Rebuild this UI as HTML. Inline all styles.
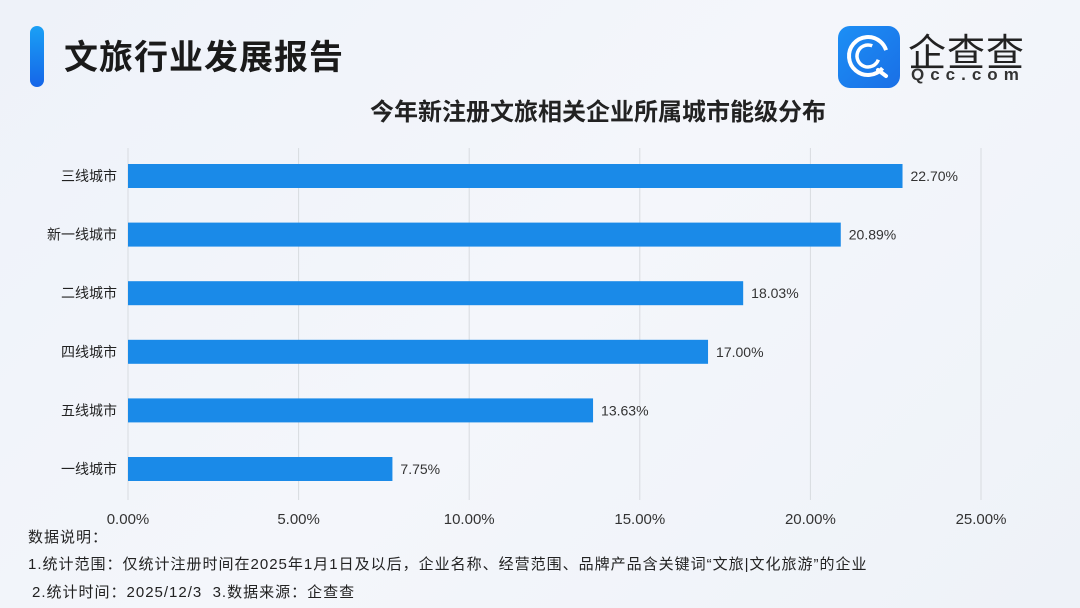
<!DOCTYPE html>
<html><head><meta charset="utf-8"><style>
body{margin:0;width:1080px;height:608px;overflow:hidden;background:linear-gradient(135deg,#eef2f9 0%,#f4f6fb 50%,#eef2f8 100%);font-family:"Liberation Sans","Noto Sans CJK SC",sans-serif;position:relative;color:#222}
.abs{position:absolute}
</style></head><body>
<div class="abs" style="left:30px;top:26px;width:14px;height:61px;border-radius:7px;background:linear-gradient(#1aa0f5,#1565e8)"></div>
<div class="abs" style="left:64px;top:30px;font-size:34px;font-weight:bold;letter-spacing:1px;color:#1a1a1a">文旅行业发展报告</div>
<div class="abs" style="left:838px;top:26px;width:62px;height:62px;border-radius:12px;background:linear-gradient(135deg,#1c8ff5,#1a6fe6)">
<svg width="62" height="62" viewBox="0 0 62 62"><circle cx="30" cy="30" r="19" fill="none" stroke="#fff" stroke-width="4" stroke-dasharray="100 20" transform="rotate(40 30 30)"/><circle cx="30" cy="30" r="11" fill="none" stroke="#fff" stroke-width="3.5" stroke-dasharray="52 18" transform="rotate(20 30 30)"/><path d="M40 44 L48 50" stroke="#fff" stroke-width="4" stroke-linecap="round"/></svg></div>
<div class="abs" style="left:908px;top:22px;font-size:38px;color:#222;letter-spacing:1px">企查查</div>
<div class="abs" style="left:911px;top:65px;font-size:17px;font-weight:bold;color:#333;letter-spacing:6px">Qcc.com</div>
<div class="abs" style="left:370px;top:92px;font-size:24px;font-weight:bold;color:#222">今年新注册文旅相关企业所属城市能级分布</div>
<svg class="abs" style="left:0;top:0" width="1080" height="608" id="chart"></svg>
<div class="abs" style="left:28px;top:526px;font-size:15px;letter-spacing:1px;color:#222">数据说明：</div>
<div class="abs" style="left:28px;top:553px;font-size:15px;letter-spacing:1px;color:#222">1.统计范围：仅统计注册时间在2025年1月1日及以后，企业名称、经营范围、品牌产品含关键词“文旅|文化旅游”的企业</div>
<div class="abs" style="left:32px;top:581px;font-size:15px;letter-spacing:1px;color:#222">2.统计时间：2025/12/3&nbsp; 3.数据来源：企查查</div>
<script>
const categories=["三线城市","新一线城市","二线城市","四线城市","五线城市","一线城市"];
const values=[22.70,20.89,18.03,17.00,13.63,7.75];
const ticks=[0,5,10,15,20,25];
const tickLabels=["0.00%","5.00%","10.00%","15.00%","20.00%","25.00%"];
const svg=document.getElementById('chart');const NS='http://www.w3.org/2000/svg';
const x=v=>128+v*(981-128)/25;
const y=i=>176+i*58.6;
function mk(t,a,txt){const e=document.createElementNS(NS,t);for(const k in a)e.setAttribute(k,a[k]);if(txt!=null)e.textContent=txt;svg.appendChild(e);return e;}
ticks.forEach((t,i)=>{
const g=mk('line',{x1:x(t),x2:x(t),y1:148,y2:500,stroke:'#d8dbe0','stroke-width':1});


const l=mk('text',{x:x(t),y:524,'text-anchor':'middle','font-size':15,fill:'#333'},tickLabels[i]);


});
categories.forEach((c,i)=>{
const b=mk('rect',{x:x(0),y:y(i)-12,width:x(values[i])-x(0),height:24,fill:'#1a8ae8'});


const cl=mk('text',{x:117,y:y(i)+5,'text-anchor':'end','font-size':14,fill:'#222'},c);


const vl=mk('text',{x:x(values[i])+8,y:y(i)+5,'font-size':14,fill:'#333'},values[i].toFixed(2)+'%');


});
</script>
</body></html>
